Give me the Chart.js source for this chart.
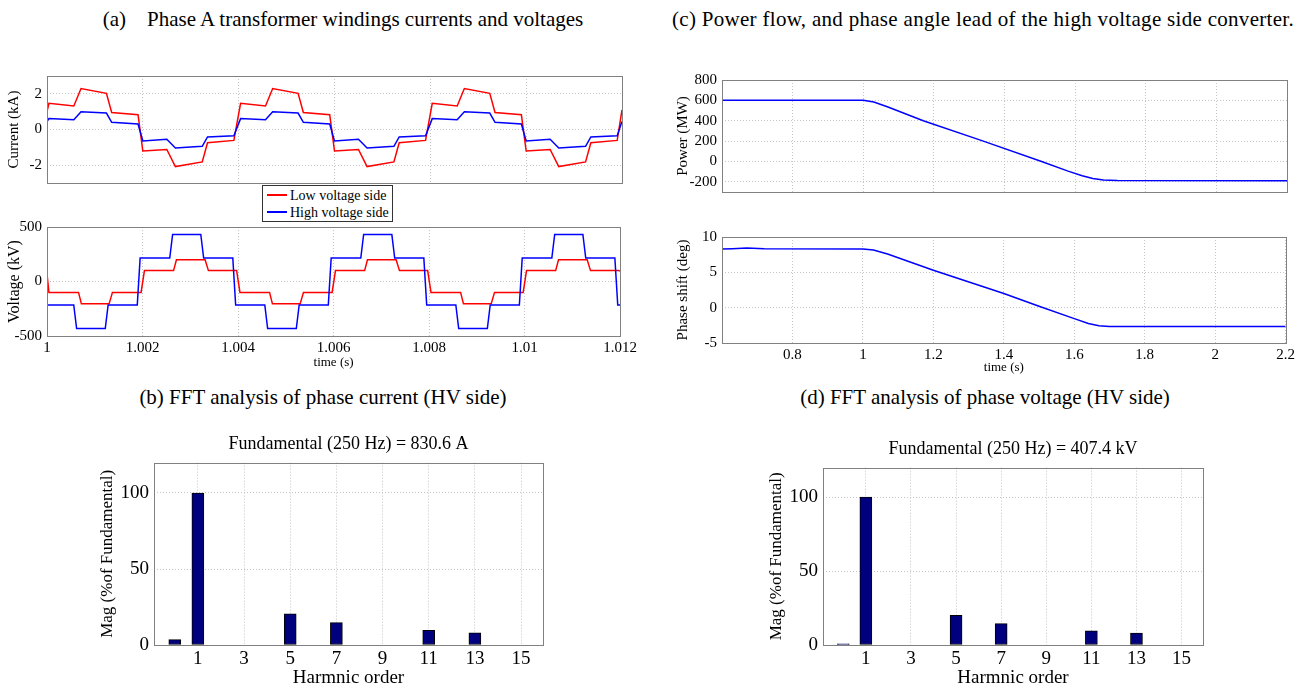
<!DOCTYPE html>
<html>
<head>
<meta charset="utf-8">
<script src="https://cdn.jsdelivr.net/npm/chart.js@4.4.1/dist/chart.umd.min.js"></script>
<style>
  body { margin: 0; background: #fff; width: 1304px; height: 689px; position: relative; overflow: hidden;
         font-family: 'Liberation Serif', 'Times New Roman', serif; color: #000; }
  canvas { position: absolute; }
  .cap { position: absolute; font-size: 21px; line-height: 24px; white-space: pre; text-align: center; }
  #legend { position: absolute; left: 262px; top: 185px; width: 131px; height: 37px; background: #fff;
            border: 1px solid #333; z-index: 5; font-size: 14px; line-height: 17px; padding-top: 1px; box-sizing: border-box; }
  #legend .sw { display: inline-block; width: 20px; height: 2px; margin: 0 3px 4px 4px; vertical-align: middle; }
</style>
</head>
<body>
<div class="cap" style="left:43px;top:7px;width:600px">(a)    Phase A transformer windings currents and voltages</div>
<div class="cap" style="left:653px;top:7px;width:660px;letter-spacing:0.3px">(c) Power flow, and phase angle lead of the high voltage side converter.</div>
<div class="cap" style="left:23px;top:385px;width:600px">(b) FFT analysis of phase current (HV side)</div>
<div class="cap" style="left:685px;top:385px;width:600px">(d) FFT analysis of phase voltage (HV side)</div>

<canvas id="chartA1"></canvas>
<canvas id="chartA2"></canvas>
<canvas id="chartC1"></canvas>
<canvas id="chartC2"></canvas>
<canvas id="chartB"></canvas>
<canvas id="chartD"></canvas>

<div id="legend">
  <div><span class="sw" style="background:#ff0000"></span>Low voltage side</div>
  <div><span class="sw" style="background:#0000ff"></span>High voltage side</div>
</div>

<script>
// ---- data ----

// (a) phase A winding currents (kA), corners of the waveform
const tCurrent = [
  1.00000, 1.00004, 1.00056, 1.00071, 1.00124, 1.00135, 1.00190, 1.00200, 1.00250, 1.00268, 1.00324, 1.00335, 1.00390,
  1.00404, 1.00456, 1.00471, 1.00524, 1.00535, 1.00590, 1.00600, 1.00650, 1.00668, 1.00724, 1.00735, 1.00790,
  1.00804, 1.00856, 1.00871, 1.00924, 1.00935, 1.00990, 1.01000, 1.01050, 1.01068, 1.01124, 1.01135, 1.01190,
  1.01200
];
const currentLow = [
  1.00, 1.47, 1.32, 2.30, 2.03, 0.95, 0.83, -1.21, -1.12, -2.08, -1.82, -0.74, -0.61,
  1.47, 1.32, 2.30, 2.03, 0.95, 0.83, -1.21, -1.12, -2.08, -1.82, -0.74, -0.61,
  1.47, 1.32, 2.30, 2.03, 0.95, 0.83, -1.21, -1.12, -2.08, -1.82, -0.74, -0.61,
  1.10
];
const currentHigh = [
  0.45, 0.61, 0.55, 1.00, 0.92, 0.40, 0.31, -0.64, -0.55, -1.04, -0.94, -0.42, -0.35,
  0.61, 0.55, 1.00, 0.92, 0.40, 0.31, -0.64, -0.55, -1.04, -0.94, -0.42, -0.35,
  0.61, 0.55, 1.00, 0.92, 0.40, 0.31, -0.64, -0.55, -1.04, -0.94, -0.42, -0.35,
  0.45
];

// (a) phase A winding voltages (kV)
const tVoltLow = [
  1.00000, 1.00004, 1.00066, 1.00072, 1.00130, 1.00137, 1.00197, 1.00204, 1.00265, 1.00271, 1.00331, 1.00338, 1.00397,
  1.00404, 1.00466, 1.00472, 1.00530, 1.00537, 1.00597, 1.00604, 1.00665, 1.00671, 1.00731, 1.00738, 1.00797,
  1.00804, 1.00866, 1.00872, 1.00930, 1.00937, 1.00997, 1.01004, 1.01065, 1.01071, 1.01131, 1.01138, 1.01197,
  1.01200
];
const voltLow = [
  70, -100, -100, -205, -205, -100, -100, 100, 100, 200, 200, 100, 100,
  -100, -100, -205, -205, -100, -100, 100, 100, 200, 200, 100, 100,
  -100, -100, -205, -205, -100, -100, 100, 100, 200, 200, 100, 100,
  95
];
const tVoltHigh = [
  1.00000, 1.00056, 1.00062, 1.00122, 1.00128, 1.00189, 1.00195, 1.00257, 1.00263, 1.00322, 1.00328, 1.00389, 1.00395,
  1.00456, 1.00462, 1.00522, 1.00528, 1.00589, 1.00595, 1.00657, 1.00663, 1.00722, 1.00728, 1.00789, 1.00795,
  1.00856, 1.00862, 1.00922, 1.00928, 1.00989, 1.00995, 1.01057, 1.01063, 1.01122, 1.01128, 1.01189, 1.01195,
  1.01200
];
const voltHigh = [
  -215, -215, -432, -432, -215, -215, 215, 215, 432, 432, 215, 215, -215,
  -215, -432, -432, -215, -215, 215, 215, 432, 432, 215, 215, -215,
  -215, -432, -432, -215, -215, 215, 215, 432, 432, 215, 215, -215,
  -215
];

const timeTicksA = [1, 1.002, 1.004, 1.006, 1.008, 1.01, 1.012];
const timeLabelsA = ['1', '1.002', '1.004', '1.006', '1.008', '1.01', '1.012'];

// (c) power flow (MW) and phase shift (deg)
const tPower = [0.6, 1.0, 1.03, 1.07, 1.17, 1.34, 1.505, 1.58, 1.62, 1.65, 1.68, 1.72, 2.2];
const power = [600, 600, 583, 535, 400, 200, 0, -95, -140, -168, -182, -187, -189];
const tPhase = [0.6, 0.63, 0.67, 0.72, 1.0, 1.03, 1.07, 1.2, 1.4, 1.5, 1.6, 1.64, 1.67, 1.7, 2.2];
const phaseShift = [8.3, 8.35, 8.45, 8.35, 8.3, 8.15, 7.6, 5.3, 2.0, 0.2, -1.55, -2.25, -2.55, -2.65, -2.65];

const timeTicksC = [0.6, 0.8, 1, 1.2, 1.4, 1.6, 1.8, 2, 2.2];
const timeLabelsC = ['', '0.8', '1', '1.2', '1.4', '1.6', '1.8', '2', '2.2'];

// (b), (d) FFT spectra (% of fundamental)
const harmonics = [0, 1, 2, 3, 4, 5, 6, 7, 8, 9, 10, 11, 12, 13, 14, 15];
const magCurrent = [3.5, 100, 0, 0, 0, 20.5, 0, 14.7, 0, 0, 0, 9.7, 0, 8.0, 0, 0];
const magVoltage = [0.8, 100, 0, 0, 0, 20.0, 0, 14.5, 0, 0, 0, 9.6, 0, 8.0, 0, 0];
const harmTicks = [1, 3, 5, 7, 9, 11, 13, 15];

// ---- helpers ----
Chart.defaults.font.family = "'Liberation Serif', 'Times New Roman', serif";
Chart.defaults.color = '#000';
Chart.defaults.animation = false;

// full box around the plot area, like matlab
const framePlugin = {
  id: 'frame',
  afterDraw(chart) {
    const a = chart.chartArea;
    const ctx = chart.ctx;
    ctx.save();
    ctx.strokeStyle = '#808080';
    ctx.lineWidth = 1;
    ctx.strokeRect(Math.round(a.left) + 0.5, Math.round(a.top) + 0.5,
                   Math.round(a.right - a.left), Math.round(a.bottom - a.top));
    ctx.restore();
  }
};

function xy(xs, ys) {
  return xs.map((x, i) => ({ x: x, y: ys[i] }));
}

function axis(o) {
  return {
    type: 'linear',
    min: o.min,
    max: o.max,
    offset: false,
    afterBuildTicks: a => { a.ticks = o.ticks.map(v => ({ value: v })); },
    afterFit: s => {
      if (s.isHorizontal()) s.height = o.size; else s.width = o.size;
    },
    grid: { color: '#c4c4c4', drawTicks: false, offset: false },
    border: { display: false, dash: [1, 2] },
    ticks: {
      display: !!o.labels,
      autoSkip: false,
      maxRotation: 0,
      padding: o.pad || 4,
      font: { size: o.fontSize || 15 },
      callback: (v, i) => (o.labels ? o.labels[i] : '')
    },
    title: o.title
      ? { display: true, text: o.title, font: { size: o.titleSize || 15 }, padding: { top: 0, bottom: 0 } }
      : { display: false }
  };
}

function place(id, left, top, w, h) {
  const cv = document.getElementById(id);
  cv.width = w;
  cv.height = h;
  cv.style.left = left + 'px';
  cv.style.top = top + 'px';
  return cv;
}

function lineDs(points, color, order) {
  return {
    data: points,
    borderColor: color,
    borderWidth: 1.5,
    pointRadius: 0,
    tension: 0,
    fill: false,
    order: order
  };
}

function lineChart(id, box, padding, datasets, xOpt, yOpt) {
  const cv = place(id, box[0], box[1], box[2], box[3]);
  return new Chart(cv, {
    type: 'line',
    data: { datasets: datasets },
    options: {
      responsive: false,
      layout: { padding: padding },
      scales: { x: axis(xOpt), y: axis(yOpt) },
      plugins: { legend: { display: false }, tooltip: { enabled: false } }
    },
    plugins: [framePlugin]
  });
}

function fftChart(id, box, padding, mags, titleText, ySize) {
  const cv = place(id, box[0], box[1], box[2], box[3]);
  return new Chart(cv, {
    type: 'bar',
    data: {
      datasets: [{
        data: xy(harmonics, mags),
        backgroundColor: '#00007f',
        borderColor: '#000000',
        borderWidth: 1,
        borderSkipped: false,
        barThickness: 12
      }]
    },
    options: {
      responsive: false,
      layout: { padding: padding },
      scales: {
        x: axis({ min: -0.9, max: 15.95, ticks: harmTicks, labels: harmTicks.map(String),
                  size: 44, fontSize: 19, pad: 3, title: 'Harmnic order', titleSize: 19 }),
        y: axis({ min: 0, max: 120, ticks: [0, 50, 100], labels: ['0', '50', '100'],
                  size: ySize, fontSize: 19, pad: 5, title: 'Mag (%of Fundamental)', titleSize: 17 })
      },
      plugins: {
        legend: { display: false },
        tooltip: { enabled: false },
        title: {
          display: true, text: titleText, fullSize: false, color: '#000',
          font: { size: 18, weight: 'normal' }, padding: { top: 8, bottom: 8 }
        }
      }
    },
    plugins: [framePlugin]
  });
}

// ---- (a) currents ----
lineChart('chartA1', [0, 62, 632, 135], { left: 5, top: 11, right: 10, bottom: 8 },
  [lineDs(xy(tCurrent, currentLow), '#ff0000', 1), lineDs(xy(tCurrent, currentHigh), '#0000ff', 0)],
  { min: 1, max: 1.012, ticks: timeTicksA, size: 0 },
  { min: -3, max: 3, ticks: [-2, 0, 2], labels: ['-2', '0', '2'], size: 42, pad: 5, title: 'Current (kA)' });

// ---- (a) voltages ----
lineChart('chartA2', [0, 213, 640, 157], { left: 5, top: 10, right: 18, bottom: 0 },
  [lineDs(xy(tVoltLow, voltLow), '#ff0000', 1), lineDs(xy(tVoltHigh, voltHigh), '#0000ff', 0)],
  { min: 1, max: 1.012, ticks: timeTicksA, labels: timeLabelsA, size: 34, pad: 3, title: 'time (s)', titleSize: 13 },
  { min: -500, max: 500, ticks: [-500, 0, 500], labels: ['-500', '0', '500'], size: 42, pad: 5, title: 'Voltage (kV)', titleSize: 16 });

// ---- (c) power ----
lineChart('chartC1', [668, 66, 630, 140], { left: 6, top: 11, right: 11, bottom: 7 },
  [lineDs(xy(tPower, power), '#0000ff', 0)],
  { min: 0.6, max: 2.2, ticks: timeTicksC, size: 0 },
  { min: -300, max: 800, ticks: [-200, 0, 200, 400, 600, 800], labels: ['-200', '0', '200', '400', '600', '800'],
    size: 48, pad: 5, title: 'Power (MW)' });

// ---- (c) phase shift ----
lineChart('chartC2', [668, 223, 630, 152], { left: 6, top: 10, right: 11, bottom: 0 },
  [lineDs(xy(tPhase, phaseShift), '#0000ff', 0)],
  { min: 0.6, max: 2.2, ticks: timeTicksC, labels: timeLabelsC, size: 32, pad: 3, title: 'time (s)', titleSize: 13 },
  { min: -5, max: 10, ticks: [-5, 0, 5, 10], labels: ['-5', '0', '5', '10'], size: 48, pad: 5, title: 'Phase shift (deg)' });

// ---- (b), (d) FFT ----
fftChart('chartB', [90, 425, 463, 264], { left: 7, top: 0, right: 10, bottom: 0 },
  magCurrent, 'Fundamental (250 Hz) = 830.6 A', 57);
fftChart('chartD', [760, 430, 453, 259], { left: 6, top: 0, right: 10, bottom: 0 },
  magVoltage, 'Fundamental (250 Hz) = 407.4 kV', 57);
</script>
</body>
</html>
